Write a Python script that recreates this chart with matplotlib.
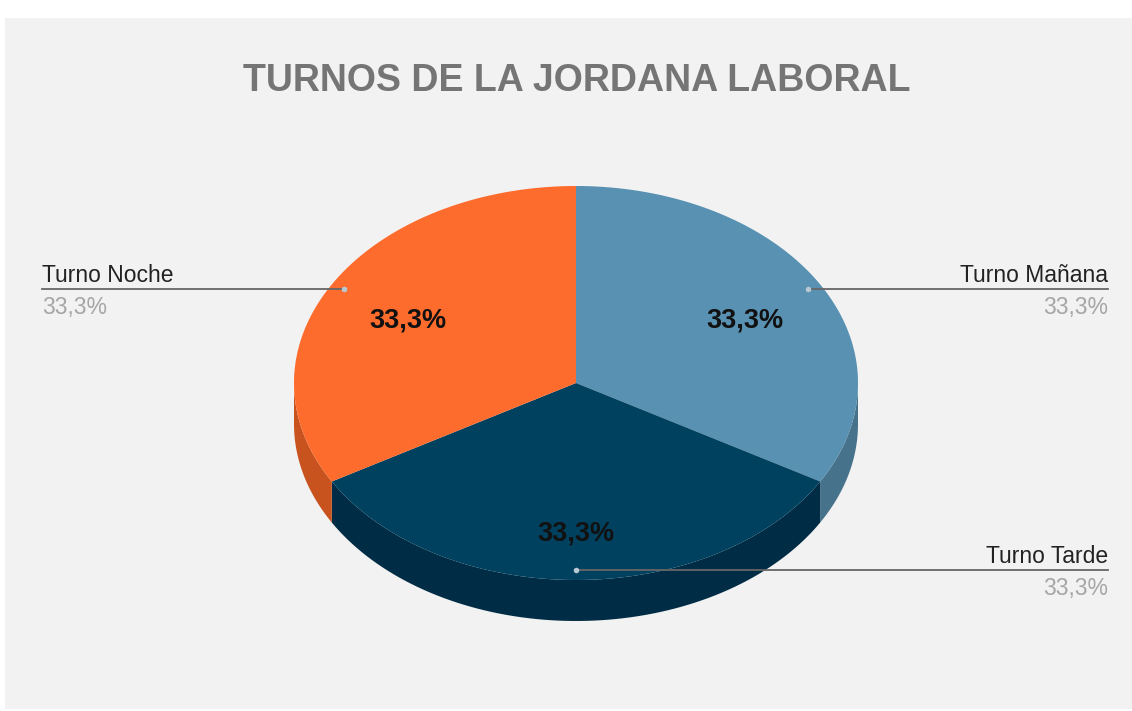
import numpy as np
import matplotlib.pyplot as plt
from matplotlib.patches import Polygon, Rectangle

# Chart data
title = 'TURNOS DE LA JORDANA LABORAL'
labels = ['Turno Mañana', 'Turno Tarde', 'Turno Noche']
values = [1, 1, 1]
top_colors = ['#5891b1', '#00415f', '#fe6c2d']
side_colors = ['#47728c', '#002d45', '#c9531f']

# pie geometry (pixels)
cx, cy = 576, 383
rx, ry = 282, 197
depth = 41


def ell(t, dy=0):
    t = np.radians(t)
    return cx + rx * np.cos(t), cy - ry * np.sin(t) + dy


def pct_text(v, total):
    return f'{100 * v / total:.1f}%'.replace('.', ',')


fig = plt.figure(figsize=(11.32, 7.11), dpi=100)
fig.patch.set_facecolor('white')
ax = fig.add_axes([0, 0, 1, 1])
ax.set_xlim(0, 1132)
ax.set_ylim(711, 0)
ax.axis('off')
ax.add_patch(Rectangle((5, 18), 1127, 691, facecolor='#f2f2f2', edgecolor='none', zorder=0))

ax.text(577, 81, title, ha='center', va='center', fontsize=27, fontweight='bold',
        color='#757575', family=['Liberation Sans', 'DejaVu Sans'])

total = sum(values)
cum = np.concatenate([[0], np.cumsum(values)])
starts = 90 - 360 * cum[:-1] / total
ends = 90 - 360 * cum[1:] / total

# sides first
for i in range(len(values)):
    t0, t1 = starts[i], ends[i]
    for k in (-1, 0, 1):
        lo = max(t1, -180 + 360 * k)
        hi = min(t0, 360 * k)
        if lo < hi:
            tt = np.linspace(lo, hi, 80)
            xs, ys = ell(tt)
            xb, yb = ell(tt[::-1], depth)
            pts = np.column_stack([np.concatenate([xs, xb]), np.concatenate([ys, yb])])
            ax.add_patch(Polygon(pts, closed=True, facecolor=side_colors[i], edgecolor='none', zorder=1))

# top faces
for i in range(len(values)):
    tt = np.linspace(starts[i], ends[i], 120)
    xs, ys = ell(tt)
    pts = np.column_stack([np.concatenate([[cx], xs]), np.concatenate([[cy], ys])])
    ax.add_patch(Polygon(pts, closed=True, facecolor=top_colors[i], edgecolor='none', zorder=2))

# labels
for i in range(len(values)):
    tm = (starts[i] + ends[i]) / 2
    pct = pct_text(values[i], total)
    ix, iy = cx + 0.69 * rx * np.cos(np.radians(tm)), cy - 0.69 * ry * np.sin(np.radians(tm))
    if np.sin(np.radians(tm)) < -0.9:
        iy += 10
    ax.text(ix, iy + 5, pct, ha='center', va='center', fontsize=19.5, fontweight='bold',
            color='#111111', family=['Liberation Sans', 'DejaVu Sans'], zorder=4)

    ax_, ay_ = cx + 0.95 * rx * np.cos(np.radians(tm)), cy - 0.95 * ry * np.sin(np.radians(tm))
    if np.cos(np.radians(tm)) < -0.01:
        lx, ha = 42, 'left'
    else:
        lx, ha = 1108, 'right'
    ax.plot([ax_, lx], [ay_, ay_], color='#666666', lw=1.3, zorder=3)
    ax.plot(ax_, ay_, 'o', ms=4, color='#b8c8d2', mec='none', zorder=3)
    ax.text(lx, ay_ - 7, labels[i], ha=ha, va='baseline', fontsize=16.5, color='#222222',
            family=['Liberation Sans', 'DejaVu Sans'], zorder=4)
    ax.text(lx, ay_ + 7, pct, ha=ha, va='top', fontsize=16.5, color='#a6a6a6',
            family=['Liberation Sans', 'DejaVu Sans'], zorder=4)

fig.savefig('out.png', dpi=100, facecolor=fig.get_facecolor())
